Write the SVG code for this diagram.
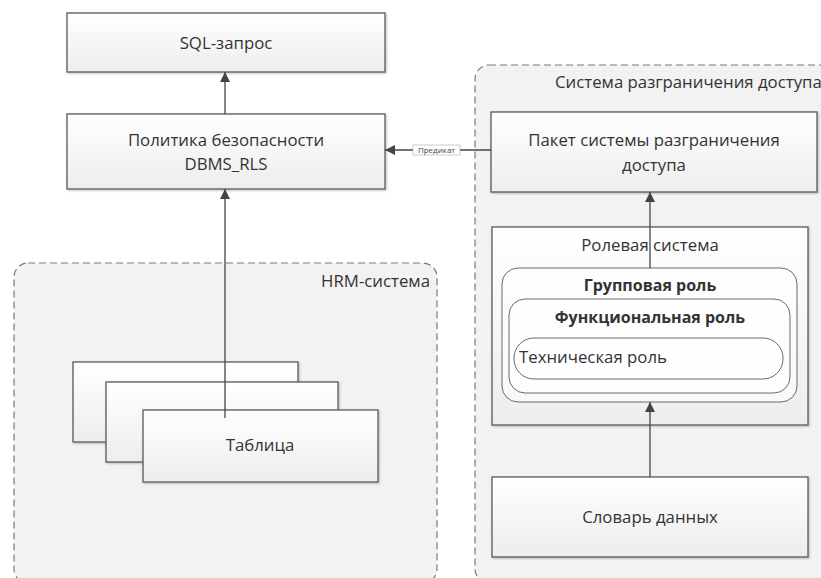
<svg xmlns="http://www.w3.org/2000/svg" width="821" height="578" viewBox="0 0 821 578">
<defs>
<linearGradient id="g" x1="0" y1="0" x2="0" y2="1">
<stop offset="0" stop-color="#ffffff"/>
<stop offset="1" stop-color="#ededed"/>
</linearGradient>
<marker id="arr" viewBox="0 0 10 10" refX="10" refY="5" markerWidth="10" markerHeight="10" markerUnits="userSpaceOnUse" orient="auto">
<path d="M0,0 L10,5 L0,10 z" fill="#444"/>
</marker>
<filter id="sh" x="-5%" y="-5%" width="110%" height="115%">
<feDropShadow dx="1" dy="1" stdDeviation="1" flood-color="#000" flood-opacity="0.25"/>
</filter>
</defs>
<style>
.box{fill:url(#g);stroke:#5a5a5a;stroke-width:1.3;filter:url(#sh)}
.grp{fill:#f2f2f2;stroke:#7a7a7a;stroke-width:1.2;stroke-dasharray:7 4}
.rl{fill:#ffffff;fill-opacity:0.6;stroke:#6a6a6a;stroke-width:1}
.t{font-family:"Open Sans","Liberation Sans",Arial,sans-serif;font-size:16.8px;fill:#333}
.b{font-weight:bold;font-size:16px}
.c{text-anchor:middle}
.con{stroke:#444;stroke-width:1.3;fill:none}
</style>
<rect width="821" height="578" fill="#ffffff"/>
<g id="hrm">
<rect class="grp" x="14" y="263" width="423" height="320" rx="14"/>
<text class="t" x="430" y="287" text-anchor="end">HRM-система</text>
</g>
<g id="access-system">
<rect class="grp" x="475" y="65" width="370" height="518" rx="14"/>
<text class="t" x="555" y="88">Система разграничения доступа</text>
</g>
<g id="sql">
<rect class="box" x="67" y="13" width="318" height="59"/>
<text class="t c" x="226" y="49">SQL-запрос</text>
</g>
<g id="policy">
<rect class="box" x="67" y="114" width="318" height="75"/>
<text class="t c" x="226" y="146">Политика безопасности</text>
<text class="t c" x="226" y="170">DBMS_RLS</text>
</g>
<g id="tables">
<rect class="box" x="73" y="362" width="225" height="80"/>
<rect class="box" x="106" y="382" width="232" height="80"/>
<rect class="box" x="143" y="410" width="235" height="72"/>
<text class="t c" x="260" y="451">Таблица</text>
</g>
<g id="package">
<rect class="box" x="491" y="112" width="326" height="80"/>
<text class="t c" x="654" y="146">Пакет системы разграничения</text>
<text class="t c" x="654" y="171">доступа</text>
</g>
<g id="role-system">
<rect class="box" x="492" y="227" width="316" height="198"/>
<text class="t c" x="650" y="251">Ролевая система</text>
</g>
<g id="group-role">
<rect class="rl" x="502" y="268" width="295" height="134" rx="16"/>
<text class="t b c" x="650" y="291">Групповая роль</text>
</g>
<g id="func-role">
<rect class="rl" x="509" y="299" width="281" height="94" rx="16"/>
<text class="t b c" x="650" y="323">Функциональная роль</text>
</g>
<g id="tech-role">
<rect class="rl" x="514" y="338" width="269" height="41" rx="20"/>
<text class="t" x="519" y="363">Техническая роль</text>
</g>
<g id="dictionary">
<rect class="box" x="492" y="477" width="316" height="80"/>
<text class="t c" x="650" y="523">Словарь данных</text>
</g>
<g id="connectors">
<line class="con" x1="225" y1="114" x2="225" y2="72" marker-end="url(#arr)"/>
<line class="con" x1="225" y1="418" x2="225" y2="189" marker-end="url(#arr)"/>
<line class="con" x1="491" y1="150" x2="385" y2="150" marker-end="url(#arr)"/>
<rect x="413" y="145" width="47" height="10" fill="#fff" stroke="#aaa" stroke-width="0.6"/>
<text x="436.500" y="153" text-anchor="middle" font-family="Open Sans,Liberation Sans,Arial,sans-serif" font-size="8" fill="#444">Предикат</text>
<line class="con" x1="650" y1="268" x2="650" y2="192" marker-end="url(#arr)"/>
<line class="con" x1="650" y1="477" x2="650" y2="402" marker-end="url(#arr)"/>
</g>
</svg>
